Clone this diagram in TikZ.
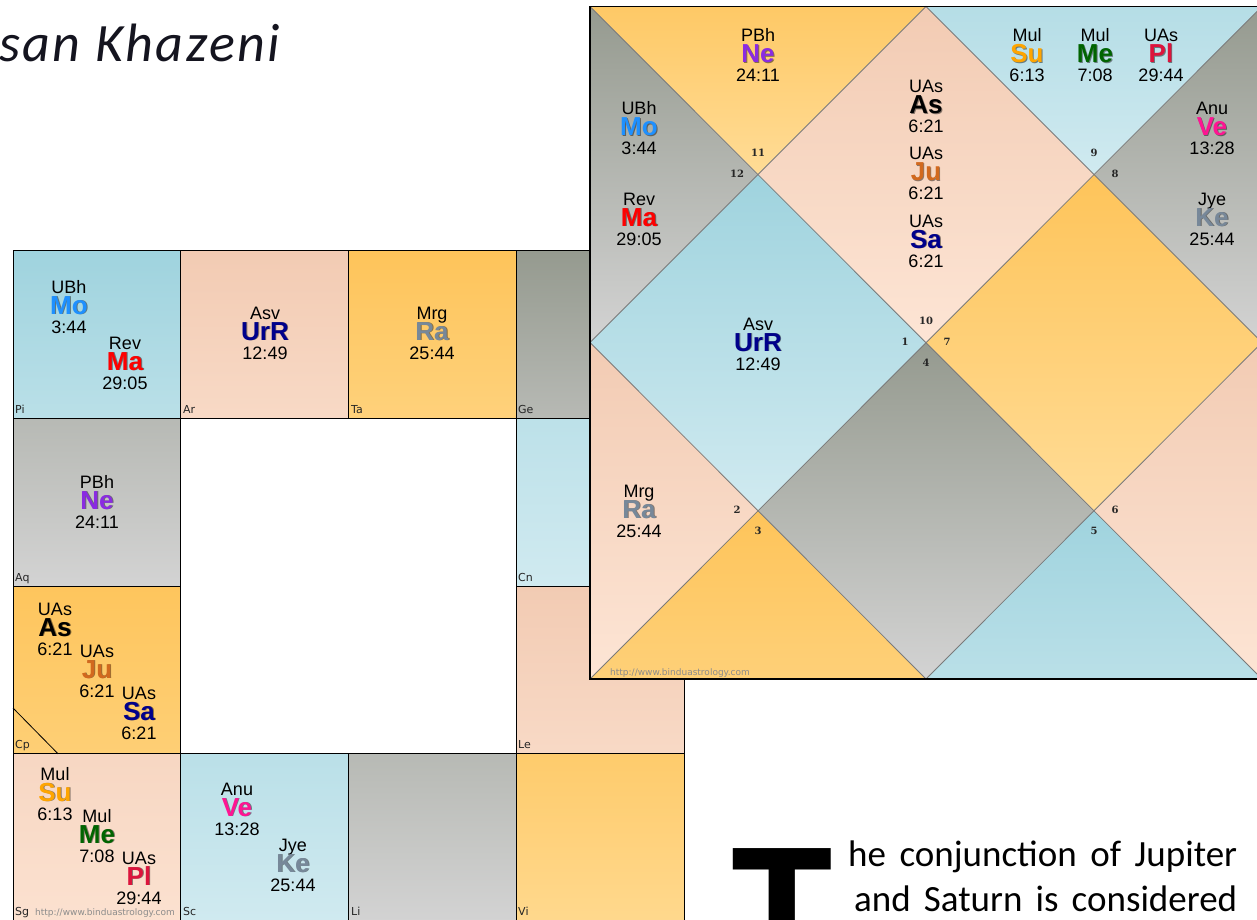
\documentclass[tikz,border=0pt]{standalone}
\usepackage{fontspec}
\setmainfont{Liberation Sans}
\newfontfamily\carlito{Carlito}
\newfontfamily\dejasans{DejaVu Sans}
\newfontfamily\dejaserif{DejaVu Serif}

\definecolor{bA}{HTML}{9FD3DE}\definecolor{bB}{HTML}{D0EAF0}
\definecolor{gA}{HTML}{959A8F}\definecolor{gB}{HTML}{D3D3D3}
\definecolor{oA}{HTML}{FEC45A}\definecolor{oB}{HTML}{FFDC96}
\definecolor{pA}{HTML}{F2CBB3}\definecolor{pB}{HTML}{FDE5D5}
\definecolor{cMo}{HTML}{1E90FF}\definecolor{cMa}{HTML}{FF0000}
\definecolor{cUr}{HTML}{00008B}\definecolor{cRa}{HTML}{778899}
\definecolor{cNe}{HTML}{8A2BE2}\definecolor{cAs}{HTML}{000000}
\definecolor{cJu}{HTML}{D2691E}\definecolor{cSa}{HTML}{00008B}
\definecolor{cSu}{HTML}{FFA500}\definecolor{cMe}{HTML}{006400}
\definecolor{cPl}{HTML}{DC143C}\definecolor{cVe}{HTML}{FF1493}
\definecolor{cKe}{HTML}{778899}\definecolor{inkT}{HTML}{14141F}
\definecolor{urlgray}{HTML}{8C8C8C}\definecolor{divline}{HTML}{7A7A7A}

\newcommand\pgrp[7]{%
  \node[nak,anchor=base] (#1n) at (#2,#3) {#4};
  \node[pl,text=black,opacity=0.45,anchor=base] (#1s) at (#2+0.9,#3+21.9) {#5};
  \node[pl,text=#6,anchor=base] (#1p) at (#2,#3+21) {#5};
  \node[nak,anchor=base] (#1d) at (#2,#3+40) {#7};
}
\newcommand\scell[7]{%
  \shade[top color=#6,bottom color=#7] (#2,#3) rectangle (#4,#5);
  \draw[cellline] (#2,#3) rectangle (#4,#5);
}

\begin{document}
\begin{tikzpicture}[x=1pt,y=-1pt,
  nak/.style={font=\fontsize{18}{18}\selectfont,inner sep=0pt},
  pl/.style={font=\fontsize{26}{26}\selectfont\bfseries,inner sep=0pt},
  sgn/.style={font=\dejasans\fontsize{11}{11}\selectfont,inner sep=0pt,anchor=base west,text=black!85},
  url/.style={font=\dejasans\fontsize{9}{9}\selectfont,inner sep=0pt,anchor=base west,text=urlgray},
  hnum/.style={font=\dejaserif\bfseries\fontsize{10}{10}\selectfont,inner sep=0pt,text=black!85},
  cellline/.style={draw=black,line width=0.9pt},
  divider/.style={draw=divline,line width=0.8pt}]
\useasboundingbox (0,0) rectangle (1257,920);
\clip (0,0) rectangle (1257,920);
\fill[white] (0,0) rectangle (1257,920);

% ---------------- title ----------------
\node[anchor=base west,inner sep=0pt,text=inkT,
  font=\carlito\itshape\fontsize{54}{54}\selectfont\addfontfeature{LetterSpace=4.5}]
  (title) at (-1,62) {san Khazeni};

% ---------------- south indian chart ----------------
\scell{Pi}{13}{250.5}{180.75}{418.25}{bA}{bA!45!bB}
\scell{Ar}{180.75}{250.5}{348.5}{418.25}{pA}{pA!45!pB}
\scell{Ta}{348.5}{250.5}{516.25}{418.25}{oA}{oA!45!oB}
\scell{Ge}{516.25}{250.5}{684}{418.25}{gA}{gA!45!gB}
\scell{Aq}{13}{418.25}{180.75}{586}{gA!45!gB}{gB}
\scell{Cn}{516.25}{418.25}{684}{586}{bA!40!bB}{bB}
\scell{Cp}{13}{586}{180.75}{753.75}{oA!95!oB}{oA!55!oB}
\scell{Le}{516.25}{586}{684}{753.75}{pA}{pA!45!pB}
\scell{Sg}{13}{753.75}{180.75}{921.5}{pA!55!pB}{pA!15!pB}
\scell{Sc}{180.75}{753.75}{348.5}{921.5}{bA!45!bB}{bB}
\scell{Li}{348.5}{753.75}{516.25}{921.5}{gA!45!gB}{gB}
\scell{Vi}{516.25}{753.75}{684}{921.5}{oA!70!oB}{oA!15!oB}
\coordinate (asA) at (13,708);
\coordinate (asB) at (58,753.75);
\draw[line width=0.8pt] (asA) -- (asB);

\node[sgn] (lPi) at (15,413) {Pi};
\node[sgn] (lAr) at (183,413) {Ar};
\node[sgn] (lTa) at (351,413) {Ta};
\node[sgn] (lGe) at (518,413) {Ge};
\node[sgn] (lAq) at (15,581) {Aq};
\node[sgn] (lCn) at (518,581) {Cn};
\node[sgn] (lCp) at (15,748) {Cp};
\node[sgn] (lLe) at (518,748) {Le};
\node[sgn] (lSg) at (15,915.5) {Sg};
\node[sgn] (lSc) at (183,915.5) {Sc};
\node[sgn] (lLi) at (351,915.5) {Li};
\node[sgn] (lVi) at (518,915.5) {Vi};
\node[url] (urlS) at (35,915.5) {http://www.binduastrology.com};

\pgrp{sMo}{69}{293}{UBh}{Mo}{cMo}{3:44}
\pgrp{sMa}{125}{349}{Rev}{Ma}{cMa}{29:05}
\pgrp{sUr}{265}{319}{Asv}{UrR}{cUr}{12:49}
\pgrp{sRa}{432}{319}{Mrg}{Ra}{cRa}{25:44}
\pgrp{sNe}{97}{488}{PBh}{Ne}{cNe}{24:11}
\pgrp{sAs}{55}{615}{UAs}{As}{cAs}{6:21}
\pgrp{sJu}{97}{657}{UAs}{Ju}{cJu}{6:21}
\pgrp{sSa}{139}{699}{UAs}{Sa}{cSa}{6:21}
\pgrp{sSu}{55}{780}{Mul}{Su}{cSu}{6:13}
\pgrp{sMe}{97}{822}{Mul}{Me}{cMe}{7:08}
\pgrp{sPl}{139}{864}{UAs}{Pl}{cPl}{29:44}
\pgrp{sVe}{237}{795}{Anu}{Ve}{cVe}{13:28}
\pgrp{sKe}{293}{851}{Jye}{Ke}{cKe}{25:44}

% ---------------- north indian chart ----------------
\coordinate (TL) at (590,6.5);   \coordinate (TM) at (926,6.5);   \coordinate (TR) at (1262,6.5);
\coordinate (ML) at (590,342.5); \coordinate (CC) at (926,342.5); \coordinate (MR) at (1262,342.5);
\coordinate (BL) at (590,679);   \coordinate (BM) at (926,679);   \coordinate (BR) at (1262,679);
\coordinate (qa) at (758,174.5); \coordinate (qb) at (1094,174.5);
\coordinate (qc) at (758,510.5); \coordinate (qd) at (1094,510.5);

\shade[top color=oA!80!oB,bottom color=oB] (TL) -- (TM) -- (qa) -- cycle;      % 11
\shade[top color=gA,bottom color=gB] (TL) -- (qa) -- (ML) -- cycle;            % 12
\shade[top color=pA,bottom color=pB] (TM) -- (qb) -- (CC) -- (qa) -- cycle;    % 10
\shade[top color=bA!55!bB,bottom color=bB] (TM) -- (TR) -- (qb) -- cycle;      % 9
\shade[top color=gA,bottom color=gB] (TR) -- (MR) -- (qb) -- cycle;            % 8
\shade[top color=bA,bottom color=bB] (ML) -- (qa) -- (CC) -- (qc) -- cycle;    % 1
\shade[top color=oA,bottom color=oB] (CC) -- (qb) -- (MR) -- (qd) -- cycle;    % 7
\shade[top color=pA,bottom color=pB] (ML) -- (qc) -- (BL) -- cycle;            % 2
\shade[top color=oA,bottom color=oA!50!oB] (BL) -- (qc) -- (BM) -- cycle;      % 3
\shade[top color=gA,bottom color=gB] (CC) -- (qd) -- (BM) -- (qc) -- cycle;    % 4
\shade[top color=bA,bottom color=bA!45!bB] (BM) -- (qd) -- (BR) -- cycle;      % 5
\shade[top color=pA,bottom color=pB] (MR) -- (BR) -- (qd) -- cycle;            % 6

\draw[divider] (TL) -- (BR);
\draw[divider] (TR) -- (BL);
\draw[divider] (TM) -- (MR) -- (BM) -- (ML) -- cycle;
\draw[black,line width=1.2pt] (TL) rectangle (BR);

\node[hnum] (h11) at (758,153) {11};
\node[hnum] (h12) at (737,174) {12};
\node[hnum] (h9) at (1094,153) {9};
\node[hnum] (h8) at (1115,174) {8};
\node[hnum] (h10) at (926,321) {10};
\node[hnum] (h1) at (905,342) {1};
\node[hnum] (h7) at (947,342) {7};
\node[hnum] (h4) at (926,363) {4};
\node[hnum] (h2) at (737,510) {2};
\node[hnum] (h3) at (758,531) {3};
\node[hnum] (h6) at (1115,510) {6};
\node[hnum] (h5) at (1094,531) {5};
\node[url] (urlN) at (610,675) {http://www.binduastrology.com};

\pgrp{nNe}{758}{42}{PBh}{Ne}{cNe}{24:11}
\pgrp{nMo}{639}{115}{UBh}{Mo}{cMo}{3:44}
\pgrp{nMa}{639}{205}{Rev}{Ma}{cMa}{29:05}
\pgrp{nAs}{926}{93}{UAs}{As}{cAs}{6:21}
\pgrp{nJu}{926}{160}{UAs}{Ju}{cJu}{6:21}
\pgrp{nSa}{926}{227}{UAs}{Sa}{cSa}{6:21}
\pgrp{nSu}{1027}{42}{Mul}{Su}{cSu}{6:13}
\pgrp{nMe}{1095}{42}{Mul}{Me}{cMe}{7:08}
\pgrp{nPl}{1161}{42}{UAs}{Pl}{cPl}{29:44}
\pgrp{nVe}{1212}{115}{Anu}{Ve}{cVe}{13:28}
\pgrp{nKe}{1212}{205}{Jye}{Ke}{cKe}{25:44}
\pgrp{nUr}{758}{330}{Asv}{UrR}{cUr}{12:49}
\pgrp{nRa}{639}{497}{Mrg}{Ra}{cRa}{25:44}

% ---------------- body text ----------------
\node[anchor=base west,inner sep=0pt,font=\carlito\bfseries\fontsize{205}{205}\selectfont]
  (dropT) at (731,981) {T};
\node[anchor=base west,inner sep=0pt,font=\carlito\fontsize{37}{37}\selectfont]
  (line1) at (848,866) {\makebox[389pt][s]{he conjunction of Jupiter}};
\node[anchor=base west,inner sep=0pt,font=\carlito\fontsize{37}{37}\selectfont]
  (line2) at (854,911) {\makebox[383pt][s]{and Saturn is considered}};
\end{tikzpicture}
\end{document}
